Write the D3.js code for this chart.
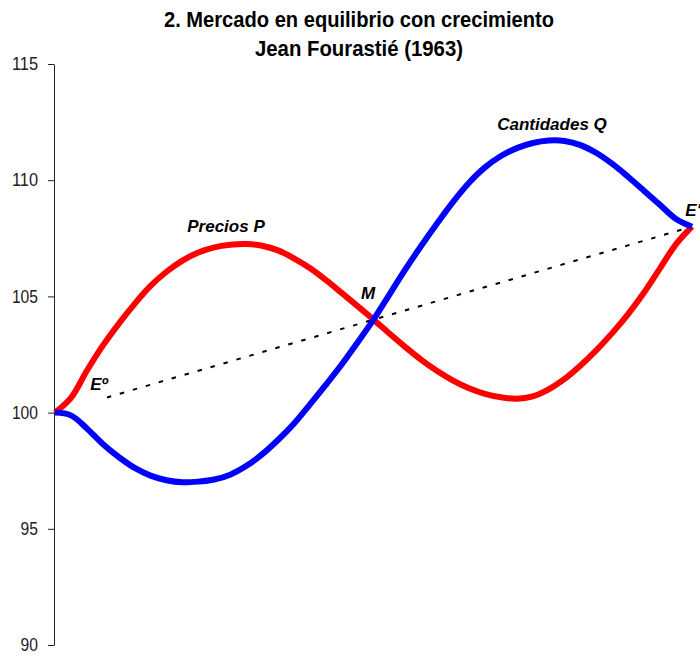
<!DOCTYPE html>
<html>
<head>
<meta charset="utf-8">
<script src="https://cdn.jsdelivr.net/npm/d3@7"></script>
<style>
  body { margin: 0; background: white; }
  svg text { font-family: "Liberation Sans Narrow", "Arial Narrow", "Liberation Sans", Arial, sans-serif; }
</style>
</head>
<body>
<div id="chart"></div>
<script>
// values, 41 evenly spaced points
const steps = d3.range(41);
const precios = [100, 100.63, 101.8, 102.88, 103.82, 104.68, 105.45, 106.06, 106.54, 106.89,
    107.11, 107.22, 107.25, 107.18, 106.98, 106.64, 106.22, 105.71, 105.15, 104.58,
    104, 103.4, 102.82, 102.27, 101.79, 101.38, 101.05, 100.81, 100.66, 100.6,
    100.7, 101.0, 101.45, 102.03, 102.69, 103.43, 104.25, 105.18, 106.22, 107.25, 108];
const cantidades = [100, 99.88, 99.32, 98.65, 98.09, 97.62, 97.29, 97.09, 97.0, 97.03,
    97.12, 97.33, 97.7, 98.2, 98.82, 99.52, 100.34, 101.19, 102.07, 103.02,
    104, 105.08, 106.16, 107.18, 108.15, 109.07, 109.89, 110.55, 111.04, 111.38,
    111.6, 111.71, 111.69, 111.51, 111.17, 110.7, 110.14, 109.54, 108.93, 108.33, 108];
const equilibrio = [{ i: 0, v: 100 }, { i: 40, v: 108 }];
const yTicks = [90, 95, 100, 105, 110, 115];
const titleLines = ["2. Mercado en equilibrio con crecimiento", "Jean Fourastié (1963)"];
const titleWidths = [390, 208];

const width = 700, height = 657;

const svg = d3.select("#chart")
    .append("svg")
    .attr("width", width)
    .attr("height", height);

const x = d3.scaleLinear().domain([0, 40]).range([55, 692]);
const y = d3.scaleLinear().domain([90, 115]).range([645, 64]);

// title (narrow font look)
svg.append("g").selectAll("text")
    .data(titleLines)
    .enter()
    .append("text")
    .attr("x", 359)
    .attr("y", (d, i) => 27 + i * 29)
    .attr("text-anchor", "middle")
    .attr("textLength", (d, i) => titleWidths[i])
    .attr("lengthAdjust", "spacingAndGlyphs")
    .style("font-size", "22px")
    .style("font-weight", "bold")
    .text(d => d);

// Y axis
const yAxis = svg.append("g")
    .attr("transform", "translate(54,0)")
    .call(d3.axisLeft(y).tickValues(yTicks).tickSize(6).tickPadding(10).tickSizeOuter(0));
yAxis.selectAll(".domain, .tick line").style("stroke", "#222");
yAxis.selectAll("text")
    .attr("textLength", d => String(d).length * 8.7)
    .attr("lengthAdjust", "spacingAndGlyphs")
    .style("font-size", "18px")
    .style("fill", "#222");

// dotted line between equilibria
svg.append("path")
    .datum(equilibrio)
    .attr("fill", "none")
    .attr("stroke", "black")
    .attr("stroke-width", 2)
    .attr("stroke-dasharray", "4.5,9")
    .attr("d", d3.line().x(d => x(d.i)).y(d => y(d.v)));

// white box of the E° label
svg.append("rect")
    .attr("x", 63)
    .attr("y", 374)
    .attr("width", 44)
    .attr("height", 36)
    .attr("fill", "white");

const line = d3.line()
    .x((d, i) => x(steps[i]))
    .y(d => y(d))
    .curve(d3.curveCatmullRom);

svg.append("path")
    .datum(precios)
    .attr("fill", "none")
    .attr("stroke", "#ff0000")
    .attr("stroke-width", 6)
    .attr("stroke-linejoin", "round")
    .attr("d", line);

svg.append("path")
    .datum(cantidades)
    .attr("fill", "none")
    .attr("stroke", "#0000ff")
    .attr("stroke-width", 6)
    .attr("stroke-linejoin", "round")
    .attr("d", line);

// labels
const labels = [
    { t: "Precios P", x: 226, y: 232 },
    { t: "Cantidades Q", x: 552, y: 130 },
    { t: "M", x: 368, y: 299 },
    { t: "Eº", x: 99, y: 390 },
    { t: "E'", x: 693, y: 216 }
];
svg.append("g").selectAll("text")
    .data(labels)
    .enter()
    .append("text")
    .attr("x", d => d.x)
    .attr("y", d => d.y)
    .attr("text-anchor", "middle")
    .style("font-size", "17px")
    .style("font-weight", "bold")
    .style("font-style", "italic")
    .text(d => d.t);
</script>
</body>
</html>
